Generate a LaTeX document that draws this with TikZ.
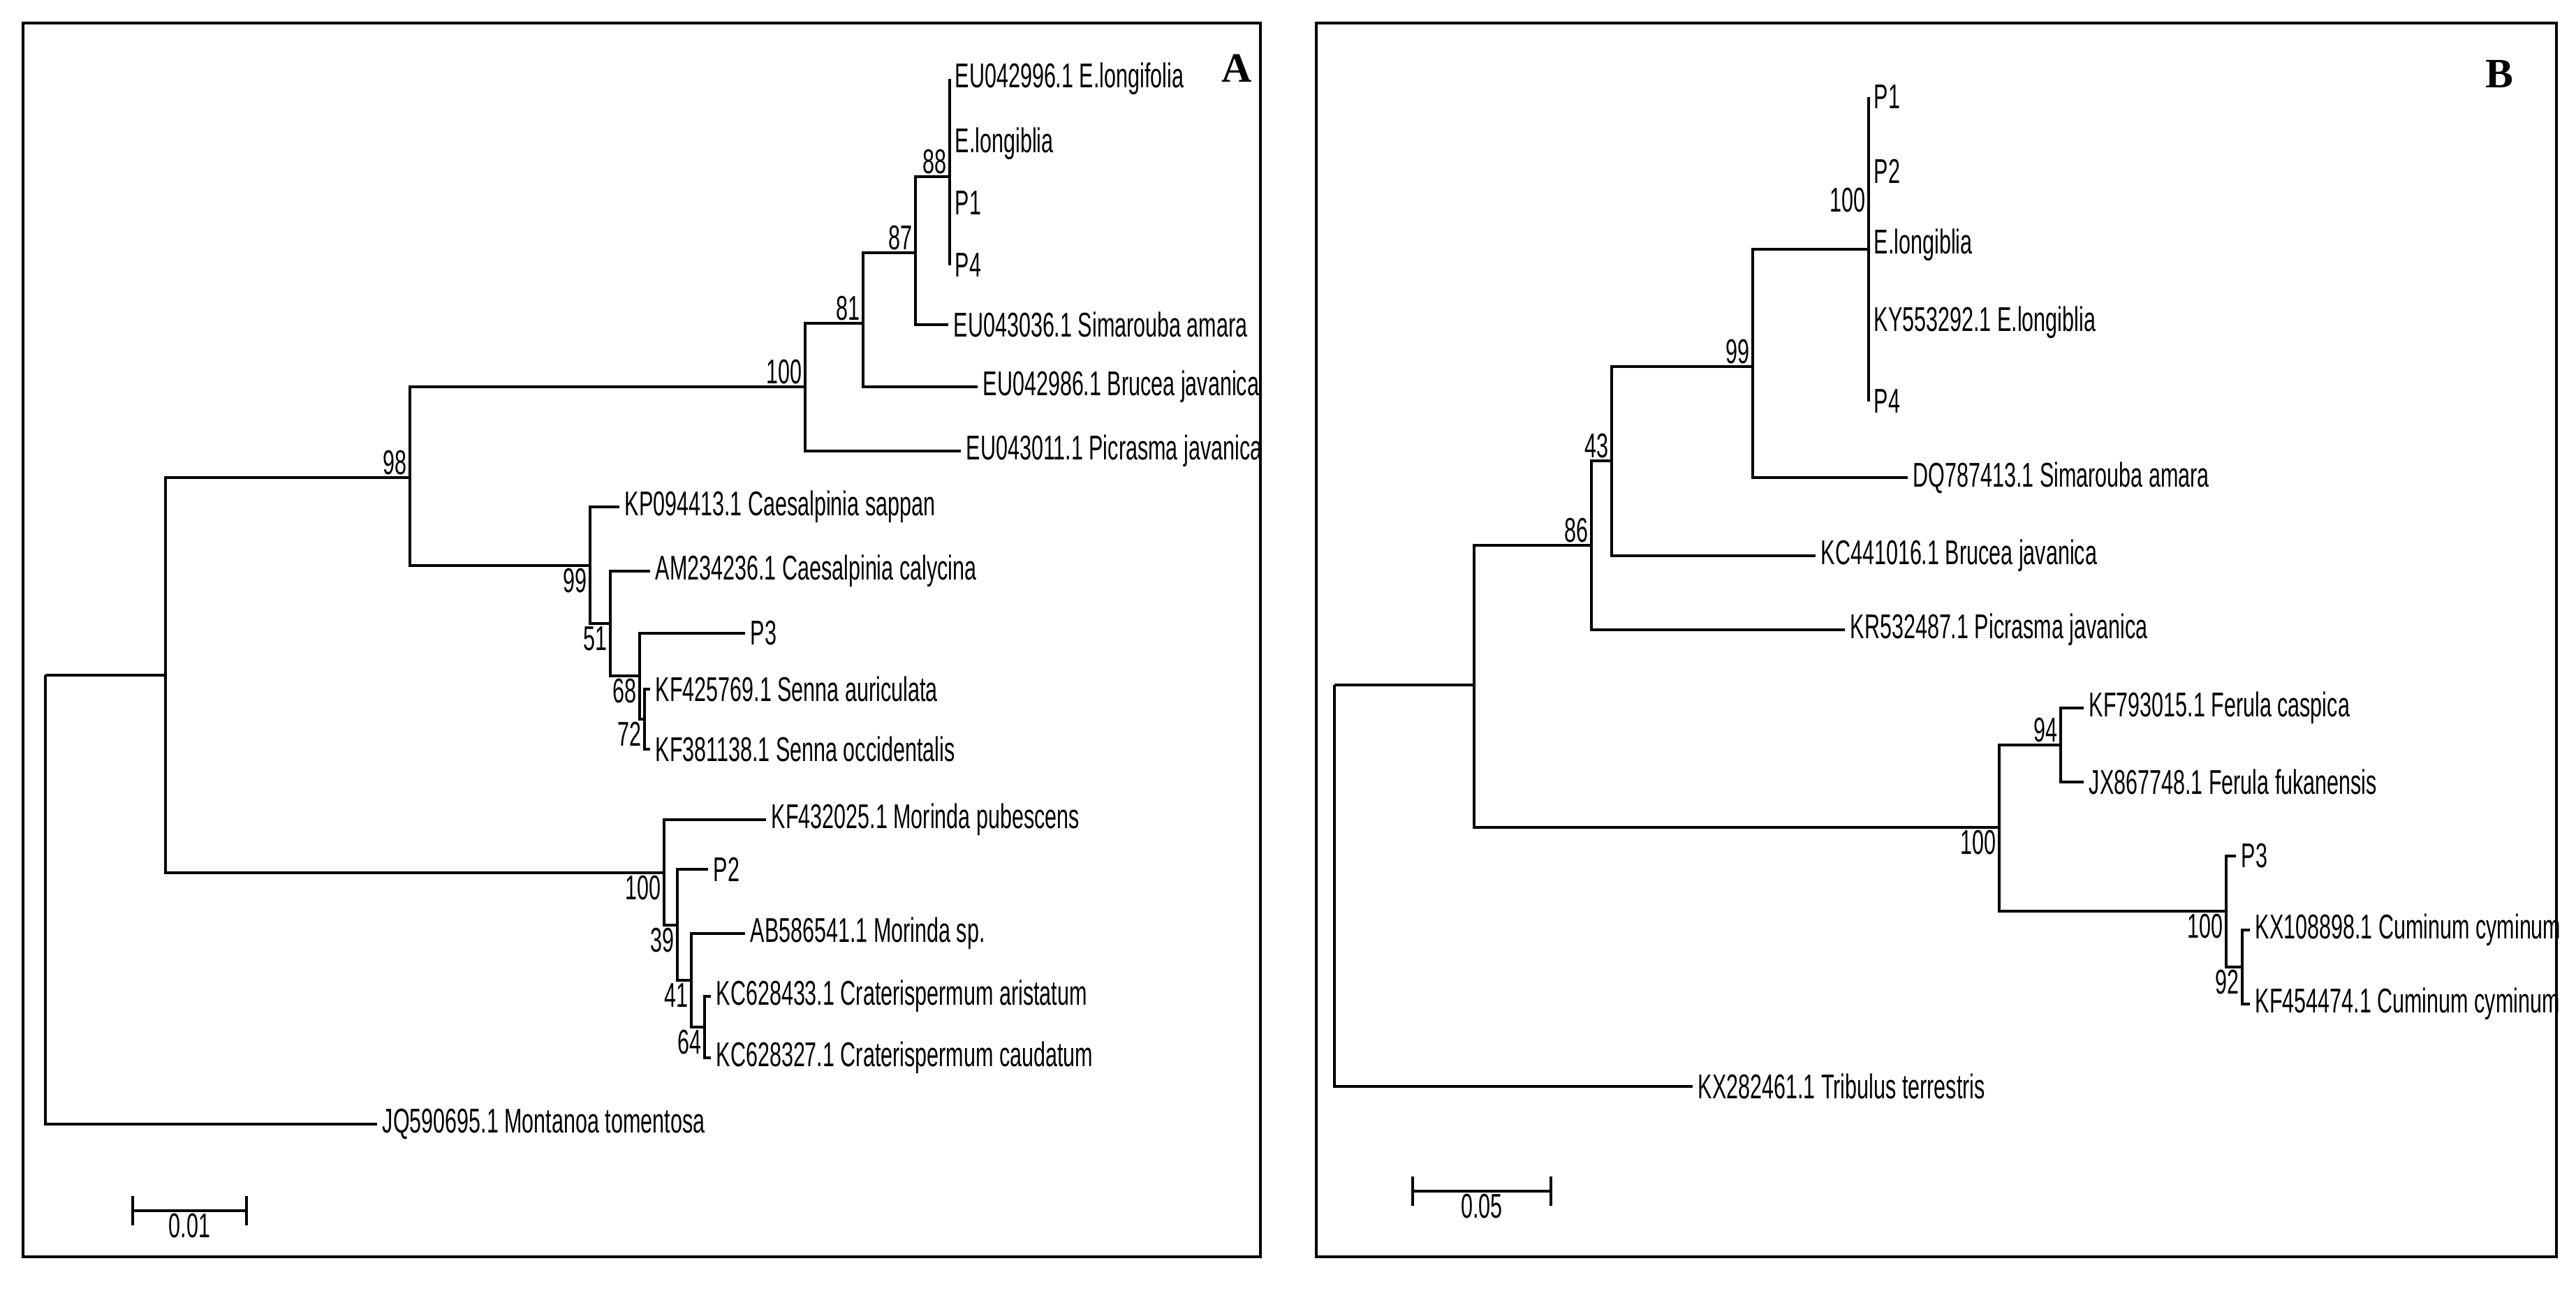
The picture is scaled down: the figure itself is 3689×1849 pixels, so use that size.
\documentclass[tikz,border=0pt]{standalone}
\usepackage{fontspec}
\setmainfont{Liberation Sans}
\newfontfamily\treefont{Liberation Sans}[FakeStretch=0.62]
\newfontfamily\panelfont{Liberation Serif}
\usetikzlibrary{positioning,calc}
\tikzset{
  branch/.style={line width=0.9pt},
  leaf/.style={anchor=west,inner sep=2pt,font=\treefont\fontsize{14}{14}\selectfont},
  bootup/.style={anchor=south east,inner sep=1pt,font=\treefont\fontsize{14}{14}\selectfont},
  bootdown/.style={anchor=north east,inner sep=1pt,font=\treefont\fontsize{14}{14}\selectfont},
  panel/.style={font=\panelfont\bfseries\fontsize{17}{17}\selectfont}
}
\begin{document}
\begin{tikzpicture}[x=0.01cm,y=-0.01cm]
  \useasboundingbox (0,0) rectangle (3689,1849);
  \draw[line width=1pt] (33,33) rectangle (1805,1800);
  \draw[line width=1pt] (1885,33) rectangle (3661,1800);
  \node[panel] (labA) at (1771,98) {A};
  \node[panel] (labB) at (3579,106) {B};

  % tree A, inner nodes
  \coordinate (rA) at (65,967);
  \coordinate (a1) at (237,967);
  \coordinate (a2) at (587,684);
  \coordinate (a3) at (1153,554);
  \coordinate (a4) at (1236,463);
  \coordinate (a5) at (1311,362);
  \coordinate (a6) at (1360,253);
  \coordinate (a7) at (845,810);
  \coordinate (a8) at (874,893);
  \coordinate (a9) at (916,968);
  \coordinate (a10) at (923,1030);
  \coordinate (a11) at (951,1250);
  \coordinate (a12) at (970,1325);
  \coordinate (a13) at (990,1404);
  \coordinate (a14) at (1009,1471);
  % tree A, leaves
  \foreach \n/\x/\y/\t in {
      lEla/1360/113/{EU042996.1 E.longifolia},
      lElb/1360/206/{E.longiblia},
      lP1a/1360/291/P1,
      lP4a/1360/380/P4,
      lSima/1358/465/{EU043036.1 Simarouba amara},
      lBrua/1400/554/{EU042986.1 Brucea javanica},
      lPica/1376/646/{EU043011.1 Picrasma javanica},
      lSap/887/726/{KP094413.1 Caesalpinia sappan},
      lCal/931/818/{AM234236.1 Caesalpinia calycina},
      lP3a/1067/907/P3,
      lSau/931/987/{KF425769.1 Senna auriculata},
      lSoc/931/1073/{KF381138.1 Senna occidentalis},
      lPub/1097/1174/{KF432025.1 Morinda pubescens},
      lP2a/1014/1245/P2,
      lMsp/1067/1337/{AB586541.1 Morinda sp.},
      lAri/1018/1427/{KC628433.1 Craterispermum aristatum},
      lCau/1018/1515/{KC628327.1 Craterispermum caudatum},
      lMon/540/1610/{JQ590695.1 Montanoa tomentosa}}
    \node[leaf] (\n) at (\x,\y) {\t};

  \draw[branch] (rA) |- (a1) (rA) |- (lMon.west);
  \draw[branch] (a1) |- (a2) (a1) |- (a11);
  \draw[branch] (a2) |- (a3) (a2) |- (a7);
  \draw[branch] (a3) |- (a4) (a3) |- (lPica.west);
  \draw[branch] (a4) |- (a5) (a4) |- (lBrua.west);
  \draw[branch] (a5) |- (a6) (a5) |- (lSima.west);
  \draw[branch] (a6) |- (lEla.west) (a6) |- (lP4a.west);
  \draw[branch] (a7) |- (lSap.west) (a7) |- (a8);
  \draw[branch] (a8) |- (lCal.west) (a8) |- (a9);
  \draw[branch] (a9) |- (lP3a.west) (a9) |- (a10);
  \draw[branch] (a10) |- (lSau.west) (a10) |- (lSoc.west);
  \draw[branch] (a11) |- (lPub.west) (a11) |- (a12);
  \draw[branch] (a12) |- (lP2a.west) (a12) |- (a13);
  \draw[branch] (a13) |- (lMsp.west) (a13) |- (a14);
  \draw[branch] (a14) |- (lAri.west) (a14) |- (lCau.west);

  \node[bootup] at (a6) {88};
  \node[bootup] at (a5) {87};
  \node[bootup] at (a4) {81};
  \node[bootup] at (a3) {100};
  \node[bootup] at (a2) {98};
  \node[bootdown] at (a7) {99};
  \node[bootdown] at (a8) {51};
  \node[bootdown] at (a9) {68};
  \node[bootdown] at (a10) {72};
  \node[bootdown] at (a11) {100};
  \node[bootdown] at (a12) {39};
  \node[bootdown] at (a13) {41};
  \node[bootdown] at (a14) {64};

  % scale A
  \coordinate (sA1) at (190,1734);
  \coordinate (sA2) at (353,1734);
  \draw[branch] (sA1) -- (sA2);
  \draw[branch] ([yshift=6]sA1) -- ([yshift=-6]sA1) ([yshift=6]sA2) -- ([yshift=-6]sA2);
  \node[bootdown,anchor=north] (sAl) at ($(sA1)!0.5!(sA2)$) {0.01};

  % tree B, inner nodes
  \coordinate (rB) at (1911,981);
  \coordinate (b1) at (2111,981);
  \coordinate (b2) at (2279,781);
  \coordinate (b3) at (2308,660);
  \coordinate (b4) at (2510,525);
  \coordinate (b5) at (2676,357);
  \coordinate (b6) at (2863,1185);
  \coordinate (b7) at (2951,1067);
  \coordinate (b8) at (3188,1305);
  \coordinate (b9) at (3211,1385);
  % tree B, leaves
  \foreach \n/\x/\y/\t in {
      lP1b/2676/139/P1,
      lP2b/2676/245/P2,
      lElc/2676/351/{E.longiblia},
      lKy/2676/462/{KY553292.1 E.longiblia},
      lP4b/2676/575/P4,
      lSimb/2732/684/{DQ787413.1 Simarouba amara},
      lBrub/2600/796/{KC441016.1 Brucea javanica},
      lPicb/2642/902/{KR532487.1 Picrasma javanica},
      lCas/2984/1014/{KF793015.1 Ferula caspica},
      lFuk/2984/1120/{JX867748.1 Ferula fukanensis},
      lP3b/3202/1226/P3,
      lCum/3222/1332/{KX108898.1 Cuminum cyminum},
      lCuk/3222/1438/{KF454474.1 Cuminum cyminum},
      lTri/2424/1556/{KX282461.1 Tribulus terrestris}}
    \node[leaf] (\n) at (\x,\y) {\t};

  \draw[branch] (rB) |- (b1) (rB) |- (lTri.west);
  \draw[branch] (b1) |- (b2) (b1) |- (b6);
  \draw[branch] (b2) |- (b3) (b2) |- (lPicb.west);
  \draw[branch] (b3) |- (b4) (b3) |- (lBrub.west);
  \draw[branch] (b4) |- (b5) (b4) |- (lSimb.west);
  \draw[branch] (b5) |- (lP1b.west) (b5) |- (lP4b.west);
  \draw[branch] (b6) |- (b7) (b6) |- (b8);
  \draw[branch] (b7) |- (lCas.west) (b7) |- (lFuk.west);
  \draw[branch] (b8) |- (lP3b.west) (b8) |- (b9);
  \draw[branch] (b9) |- (lCum.west) (b9) |- (lCuk.west);

  \node[bootup] at ([yshift=14pt]b5) {100};
  \node[bootup] at (b4) {99};
  \node[bootup] at (b3) {43};
  \node[bootup] at (b2) {86};
  \node[bootup] at (b7) {94};
  \node[bootdown] at (b6) {100};
  \node[bootdown] at (b8) {100};
  \node[bootdown] at (b9) {92};

  % scale B
  \coordinate (sB1) at (2023,1706);
  \coordinate (sB2) at (2221,1706);
  \draw[branch] (sB1) -- (sB2);
  \draw[branch] ([yshift=6]sB1) -- ([yshift=-6]sB1) ([yshift=6]sB2) -- ([yshift=-6]sB2);
  \node[bootdown,anchor=north] (sBl) at ($(sB1)!0.5!(sB2)$) {0.05};
\end{tikzpicture}
\end{document}
